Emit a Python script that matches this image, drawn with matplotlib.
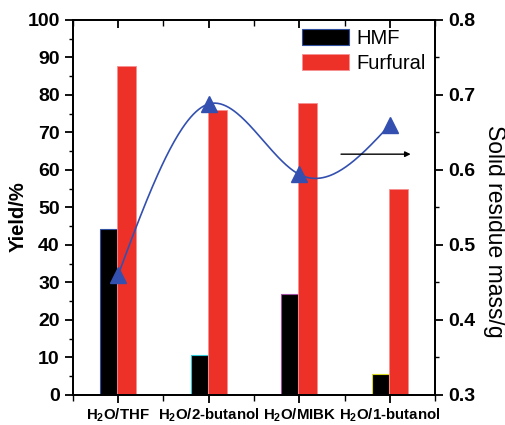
import numpy as np
import matplotlib
matplotlib.use('Agg')
import matplotlib.pyplot as plt
from matplotlib.ticker import MultipleLocator, FixedLocator

plt.rcParams['font.family'] = ['Liberation Sans', 'DejaVu Sans']
plt.rcParams['mathtext.fontset'] = 'custom'
plt.rcParams['mathtext.rm'] = 'Liberation Sans:bold'
plt.rcParams['mathtext.default'] = 'rm'

# data
solvents = [r'H$_2$O/THF', r'H$_2$O/2-butanol', r'H$_2$O/MIBK', r'H$_2$O/1-butanol']
hmf = [44.3, 10.7, 26.9, 5.5]
furfural = [87.7, 76.0, 77.9, 54.9]
residue = [0.460, 0.688, 0.594, 0.660]
hmf_edges = ['#3050a0', '#30c8d8', '#a050a0', '#d8d820']


def natural_spline(x, y, n=200):
    # plain natural cubic spline, like the Origin smooth line
    x = np.asarray(x, float)
    y = np.asarray(y, float)
    k = len(x)
    h = np.diff(x)
    A = np.zeros((k, k))
    b = np.zeros(k)
    A[0, 0] = A[-1, -1] = 1
    for i in range(1, k - 1):
        A[i, i - 1] = h[i - 1]
        A[i, i] = 2 * (h[i - 1] + h[i])
        A[i, i + 1] = h[i]
        b[i] = 6 * ((y[i + 1] - y[i]) / h[i] - (y[i] - y[i - 1]) / h[i - 1])
    M = np.linalg.solve(A, b)
    xs = np.linspace(x[0], x[-1], n)
    idx = np.clip(np.searchsorted(x, xs) - 1, 0, k - 2)
    x0, x1 = x[idx], x[idx + 1]
    hh = x1 - x0
    t0 = x1 - xs
    t1 = xs - x0
    ys = (M[idx] * t0**3 / (6 * hh) + M[idx + 1] * t1**3 / (6 * hh)
          + (y[idx] / hh - M[idx] * hh / 6) * t0
          + (y[idx + 1] / hh - M[idx + 1] * hh / 6) * t1)
    return xs, ys


pos = np.arange(1, len(solvents) + 1)

fig = plt.figure(figsize=(5.06, 4.25), dpi=100)
ax = fig.add_axes([0.144, 0.071, 0.716, 0.882])

ax.bar(pos - 0.2, hmf, width=0.19, align='edge', color='black',
       edgecolor=hmf_edges, linewidth=0.8, label='HMF')
ax.bar(pos - 0.01, furfural, width=0.21, align='edge', color='#ee3128',
       edgecolor='#f59090', linewidth=0.6, label='Furfural')

ax.set_xlim(0.5, 4.5)
ax.set_ylim(0, 100)
ax.set_xticks(pos)
ax.set_xticklabels(solvents, fontsize=10.8, fontweight='bold')
ax.xaxis.set_minor_locator(FixedLocator([0.5, 1.5, 2.5, 3.5, 4.5]))
ax.yaxis.set_major_locator(MultipleLocator(10))
ax.yaxis.set_minor_locator(MultipleLocator(5))
ax.tick_params(axis='y', which='major', direction='out', length=6, width=1.3,
               labelsize=14)
ax.tick_params(axis='y', which='minor', direction='out', length=3, width=1.0)
ax.tick_params(axis='x', which='major', direction='out', length=6, width=1.3,
               top=True, pad=2.5)
ax.tick_params(axis='x', which='minor', direction='out', length=4, width=1.0,
               top=True)
for lab in ax.get_yticklabels():
    lab.set_fontweight('bold')
ax.set_ylabel('Yield/%', fontsize=14.5, fontweight='bold', labelpad=0)
ax.yaxis.label.set_y(0.475)
for s in ax.spines.values():
    s.set_linewidth(1.3)

# top ticks point inward
for t in ax.xaxis.get_major_ticks() + ax.xaxis.get_minor_ticks():
    t.tick2line.set_marker(3)

leg = ax.legend(loc='upper right', bbox_to_anchor=(1.0, 1.0), frameon=False,
                fontsize=14.5, handlelength=2.3, handleheight=0.8,
                handletextpad=0.4, labelspacing=0.3, borderaxespad=0.05)

ax2 = ax.twinx()
ax2.set_ylim(0.3, 0.8)
ax2.yaxis.set_major_locator(MultipleLocator(0.1))
ax2.yaxis.set_minor_locator(MultipleLocator(0.05))
ax2.tick_params(axis='y', which='major', direction='out', length=6, width=1.3,
                labelsize=14)
ax2.tick_params(axis='y', which='minor', direction='out', length=3, width=1.0)
for lab in ax2.get_yticklabels():
    lab.set_fontweight('bold')
ax2.set_ylabel('Solid residue mass/g', fontsize=16.5, rotation=-90,
               labelpad=22)
ax2.yaxis.label.set_y(0.435)
for s in ax2.spines.values():
    s.set_linewidth(1.3)

xs, ys = natural_spline(pos, residue)
ax2.plot(xs, ys, color='#3350b0', linewidth=1.2)
ax2.plot(pos, residue, linestyle='none', marker='^', markersize=11,
         color='#3350b0')

ax2.annotate('', xy=(4.26, 0.621), xytext=(3.43, 0.621),
             arrowprops=dict(arrowstyle='-|>', color='black', lw=1.0,
                             mutation_scale=8))

fig.savefig('out.png', dpi=100)
